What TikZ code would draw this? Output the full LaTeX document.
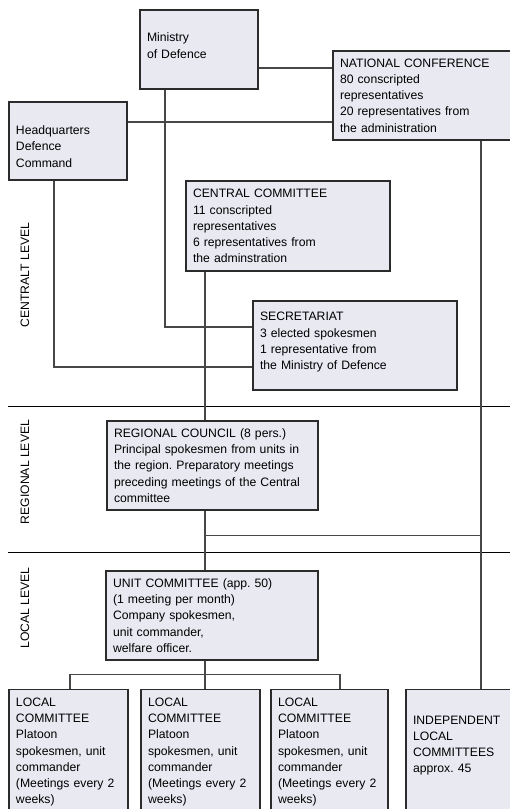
\documentclass[tikz,border=0pt]{standalone}
\usepackage{fontspec}
\setmainfont{Liberation Sans}
\frenchspacing
\definecolor{boxfill}{HTML}{E9E9F2}
\definecolor{boxline}{HTML}{2B2B2B}
\definecolor{linkgrey}{HTML}{474747}
\newcommand{\orgfont}{\fontsize{12.2pt}{16.2pt}\selectfont}

\begin{document}
\begin{tikzpicture}[x=1pt, y=-1pt,
  orgbox/.style={draw=boxline, fill=boxfill, line width=1.3pt, align=left,
    inner xsep=7pt, inner ysep=3pt, font=\orgfont},
  link/.style={draw=linkgrey, line width=1.1pt},
  levelrule/.style={draw=black, line width=0.9pt},
  levelname/.style={font=\orgfont, rotate=90}]
  \useasboundingbox (0,0) rectangle (510,809);
  \clip (0,0) rectangle (510,809);

  % levels
  \draw[levelrule] (8,406) -- (510,406);
  \draw[levelrule] (8,552) -- (510,552);
  \node[levelname] (central) at (25,275) {CENTRALT LEVEL};
  \node[levelname] (regional) at (25,472) {REGIONAL LEVEL};
  \node[levelname] (local) at (25,608) {LOCAL LEVEL};

  % top
  \node[orgbox, text width=104pt, minimum height=79pt] (mod) at (199,49.5)
    {Ministry\\of Defence\rule[-8pt]{0pt}{8pt}};
  \node[orgbox, text width=164pt, minimum height=89pt] (natconf) at (422,95.5)
    {NATIONAL CONFERENCE\\80 conscripted\\representatives\\20 representatives from\\the administration};
  \node[orgbox, text width=104pt, minimum height=78pt] (hq) at (68,141)
    {\rule{0pt}{20pt}Headquarters\\Defence\\Command};
  \node[orgbox, text width=190pt, minimum height=90pt] (cc) at (288,226)
    {CENTRAL COMMITTEE\\11 conscripted\\representatives\\6 representatives from\\the adminstration};
  \node[orgbox, text width=190pt, minimum height=89pt] (sec) at (355,345.5)
    {SECRETARIAT\\3 elected spokesmen\\1 representative from\\the Ministry of Defence\rule[-9pt]{0pt}{9pt}};

  % regional / unit
  \node[orgbox, text width=197pt, minimum height=89pt] (rc) at (212.5,465.5)
    {REGIONAL COUNCIL (8 pers.)\\Principal spokesmen from units in\\the region. Preparatory meetings\\preceding meetings of the Central\\committee};
  \node[orgbox, text width=198pt, minimum height=89pt] (uc) at (212,615.5)
    {UNIT COMMITTEE (app. 50)\\(1 meeting per month)\\Company spokesmen,\\unit commander,\\welfare officer.};

  % local committees
  \node[orgbox, anchor=north, text width=105pt, minimum height=125pt] (lc1) at (68.5,689)
    {LOCAL\\COMMITTEE\\Platoon\\spokesmen, unit\\commander\\(Meetings every 2\\weeks)};
  \node[orgbox, anchor=north, text width=105pt, minimum height=125pt] (lc2) at (200.5,689)
    {LOCAL\\COMMITTEE\\Platoon\\spokesmen, unit\\commander\\(Meetings every 2\\weeks)};
  \node[orgbox, anchor=north, text width=103pt, minimum height=125pt] (lc3) at (329.5,689)
    {LOCAL\\COMMITTEE\\Platoon\\spokesmen, unit\\commander\\(Meetings every 2\\weeks)};
  \node[orgbox, anchor=north, text width=91pt, minimum height=136pt] (indep) at (458.5,689)
    {INDEPENDENT\\LOCAL\\COMMITTEES\\approx. 45\rule[-27pt]{0pt}{27pt}};

  % connectors
  \draw[link] ([yshift=-18.5pt]mod.east) coordinate (m1) -- (m1 -| natconf.west);
  \draw[link] ([yshift=19pt]hq.east) coordinate (h1) -- (h1 -| natconf.west);
  \draw[link] ([xshift=-34pt]mod.south) |- ([yshift=18.5pt]sec.west);
  \draw[link] ([xshift=-14pt]hq.south) |- ([yshift=-21.5pt]sec.west);
  \draw[link] ([xshift=-83pt]cc.south) -- ([xshift=-7.5pt]rc.north);
  \draw[link] ([xshift=59pt]natconf.south) coordinate (n1) -- (n1 |- indep.north);
  \coordinate (hub) at ([xshift=-7.5pt,yshift=-25pt]rc.south);
  \draw[link] ([xshift=-7.5pt]rc.south) -- ([xshift=-7pt]uc.north);
  \draw[link] (hub) -- (hub -| n1);
  \coordinate (bus) at ([xshift=-7pt,yshift=-14pt]uc.south);
  \draw[link] ([xshift=-7pt]uc.south) -- (bus |- lc2.north);
  \draw[link] ([xshift=1.5pt]lc1.north) |- (bus) -| ([xshift=10.5pt]lc3.north);
\end{tikzpicture}
\end{document}
